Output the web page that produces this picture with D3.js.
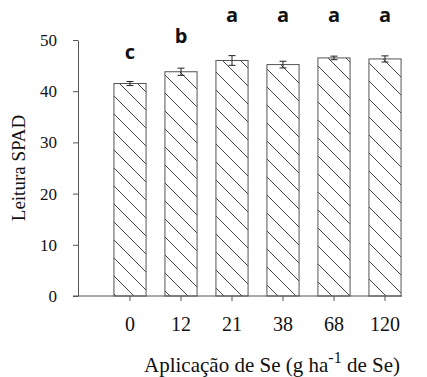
<!DOCTYPE html>
<html>
<head>
<meta charset="utf-8">
<script src="https://cdn.jsdelivr.net/npm/d3@7"></script>
<style>
  body { margin: 0; background: #fff; }
  svg { display: block; }
  .serif { font-family: "Liberation Serif", "Times New Roman", Times, "DejaVu Serif", serif; }
</style>
</head>
<body>
<script>
// data
var doses = ["0", "12", "21", "38", "68", "120"];
var spad = [41.5, 43.8, 46.0, 45.2, 46.5, 46.3];
var spadErr = [0.4, 0.7, 0.95, 0.65, 0.35, 0.6];
var letters = ["c", "b", "a", "a", "a", "a"];
var letterAt = [46.3, 49.4, 53.5, 53.5, 53.5, 53.5]; // where the letters sit, in SPAD units
var yTicks = [0, 10, 20, 30, 40, 50];

var W = 427, H = 377;
var pLeft = 78, pRight = 402, pTop = 40, pBottom = 296;

var svg = d3.select("body").append("svg")
    .attr("width", W)
    .attr("height", H);

// hatch fill
var defs = svg.append("defs");
var pat = defs.append("pattern")
    .attr("id", "hatch")
    .attr("patternUnits", "userSpaceOnUse")
    .attr("width", 18)
    .attr("height", 18);
pat.append("rect").attr("width", 18).attr("height", 18).attr("fill", "#fff");
pat.append("path")
    .attr("d", "M-2,-2 L20,20 M-2,16 L2,20 M16,-2 L20,2")
    .attr("stroke", "#333")
    .attr("stroke-width", 0.9);

var x = d3.scaleBand()
    .domain(doses)
    .range([104.5, 410.5])
    .paddingInner(0.37)
    .paddingOuter(0.185);

var y = d3.scaleLinear()
    .domain([0, 50])
    .range([pBottom, pTop]);

// bars
svg.selectAll("rect.bar")
    .data(spad)
    .enter()
    .append("rect")
    .attr("class", "bar")
    .attr("x", function(d, i) { return x(doses[i]); })
    .attr("y", function(d) { return y(d); })
    .attr("width", x.bandwidth())
    .attr("height", function(d) { return y(0) - y(d); })
    .attr("fill", "url(#hatch)")
    .attr("stroke", "#555")
    .attr("stroke-width", 1);

// error bars
var cap = 3.5;
var eb = svg.append("g").attr("stroke", "#222").attr("stroke-width", 1);
spad.forEach(function(d, i) {
    var cx = x(doses[i]) + x.bandwidth() / 2;
    var y1 = y(d + spadErr[i]), y0 = y(d - spadErr[i]);
    eb.append("line").attr("x1", cx).attr("x2", cx).attr("y1", y1).attr("y2", y0);
    eb.append("line").attr("x1", cx - cap).attr("x2", cx + cap).attr("y1", y1).attr("y2", y1);
    eb.append("line").attr("x1", cx - cap).attr("x2", cx + cap).attr("y1", y0).attr("y2", y0);
});

// y axis
var yAxis = svg.append("g")
    .attr("transform", "translate(" + pLeft + ",0)")
    .call(d3.axisLeft(y).tickValues(yTicks).tickSize(5).tickPadding(16).tickSizeOuter(0));
yAxis.attr("font-family", null);
yAxis.select(".domain").attr("stroke", "#555");
yAxis.selectAll(".tick line").attr("stroke", "#555");
yAxis.selectAll("text")
    .attr("class", "serif")
    .attr("font-size", 17)
    .attr("fill", "#111");

// x axis
var xAxis = svg.append("g")
    .attr("transform", "translate(0," + pBottom + ")")
    .call(d3.axisBottom(x).tickSize(5).tickPadding(16).tickSizeOuter(0));
xAxis.attr("font-family", null);
xAxis.select(".domain").remove();
xAxis.selectAll(".tick line").attr("stroke", "#555");
xAxis.selectAll("text")
    .attr("class", "serif")
    .attr("font-size", 20)
    .attr("fill", "#111");
svg.append("line")
    .attr("x1", pLeft - 5).attr("x2", pRight)
    .attr("y1", pBottom).attr("y2", pBottom)
    .attr("stroke", "#555");

// significance letters
svg.selectAll("text.sig")
    .data(letters)
    .enter()
    .append("text")
    .attr("class", "sig")
    .attr("x", function(d, i) { return x(doses[i]) + x.bandwidth() / 2; })
    .attr("y", function(d, i) { return y(letterAt[i]); })
    .attr("text-anchor", "middle")
    .attr("font-family", "Open Sans, sans-serif")
    .attr("font-weight", "bold")
    .attr("font-size", 20)
    .attr("fill", "#111")
    .text(function(d) { return d; });

// axis titles
svg.append("text")
    .attr("class", "serif")
    .attr("transform", "translate(" + 25 + "," + ((pTop + pBottom) / 2) + ") rotate(-90)")
    .attr("text-anchor", "middle")
    .attr("font-size", 19)
    .attr("fill", "#111")
    .text("Leitura SPAD");

var xt = svg.append("text")
    .attr("class", "serif")
    .attr("x", 272)
    .attr("y", 372)
    .attr("text-anchor", "middle")
    .attr("font-size", 21)
    .attr("fill", "#111");
xt.append("tspan").text("Aplicação de Se (g ha");
xt.append("tspan").attr("dy", -9).attr("font-size", 16).text("-1");
xt.append("tspan").attr("dy", 9).text(" de Se)");
</script>
</body>
</html>
